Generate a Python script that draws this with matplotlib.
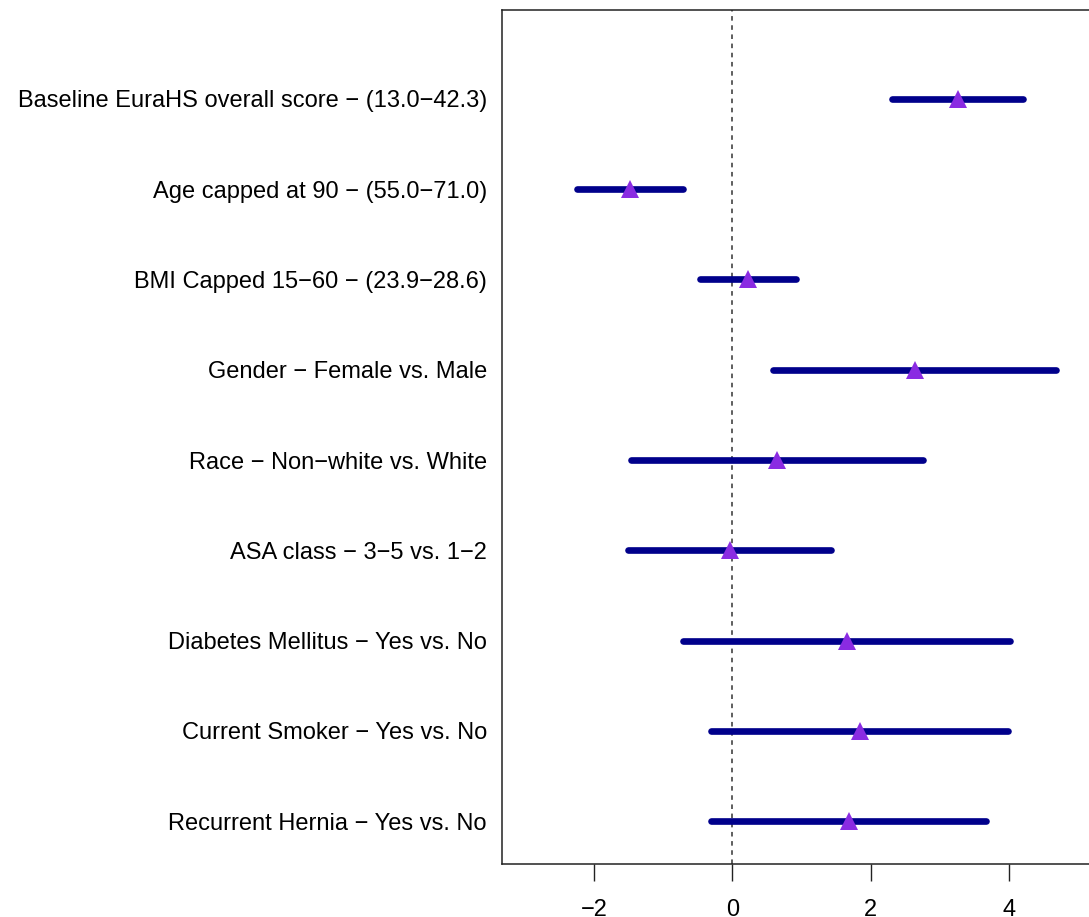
import matplotlib
matplotlib.use("Agg")
import matplotlib.pyplot as plt
import numpy as np

plt.rcParams["font.family"] = ["Liberation Sans", "DejaVu Sans"]

# predictor labels, top to bottom
labels = [
    "Baseline EuraHS overall score \u2212 (13.0\u221242.3)",
    "Age capped at 90 \u2212 (55.0\u221271.0)",
    "BMI Capped 15\u221260 \u2212 (23.9\u221228.6)",
    "Gender \u2212 Female vs. Male",
    "Race \u2212 Non\u2212white vs. White",
    "ASA class \u2212 3\u22125 vs. 1\u22122",
    "Diabetes Mellitus \u2212 Yes vs. No",
    "Current Smoker \u2212 Yes vs. No",
    "Recurrent Hernia \u2212 Yes vs. No",
]
estimate = [3.26, -1.48, 0.22, 2.64, 0.64, -0.04, 1.65, 1.84, 1.68]
lower = [2.31, -2.25, -0.47, 0.58, -1.46, -1.51, -0.72, -0.31, -0.31]
upper = [4.20, -0.71, 0.92, 4.67, 2.75, 1.43, 4.01, 3.98, 3.67]
xticks = [-2, 0, 2, 4]

ypos = np.arange(len(labels), 0, -1)

fig = plt.figure(figsize=(10.89, 9.17), dpi=100)
ax = fig.add_axes([0.461, 0.0578, 0.561, 0.9313])

ax.axvline(0, color="#333333", lw=1.1, linestyle=(0, (3, 3)), zorder=1)
ax.hlines(ypos, lower, upper, color="#00008B", lw=4.8, capstyle="round", zorder=2)
ax.plot(estimate, ypos, linestyle="none", marker="^", markersize=13,
        color="#8A2BE2", markeredgewidth=0, zorder=3)

ax.set_xlim(-3.33, 5.5)
ax.set_ylim(0.524, 9.986)
ax.set_xticks(xticks)
ax.set_xticklabels([str(t).replace("-", "\u2212") for t in xticks])
ax.set_yticks(ypos)
ax.set_yticklabels(labels)

ax.tick_params(axis="x", length=12, width=1, pad=13, labelsize=17, color="#222222")
ax.tick_params(axis="y", length=0, pad=11, labelsize=17)
for side in ["left", "top", "bottom", "right"]:
    ax.spines[side].set_linewidth(1.1)
    ax.spines[side].set_color("#222222")

fig.savefig("out.png", dpi=100)
